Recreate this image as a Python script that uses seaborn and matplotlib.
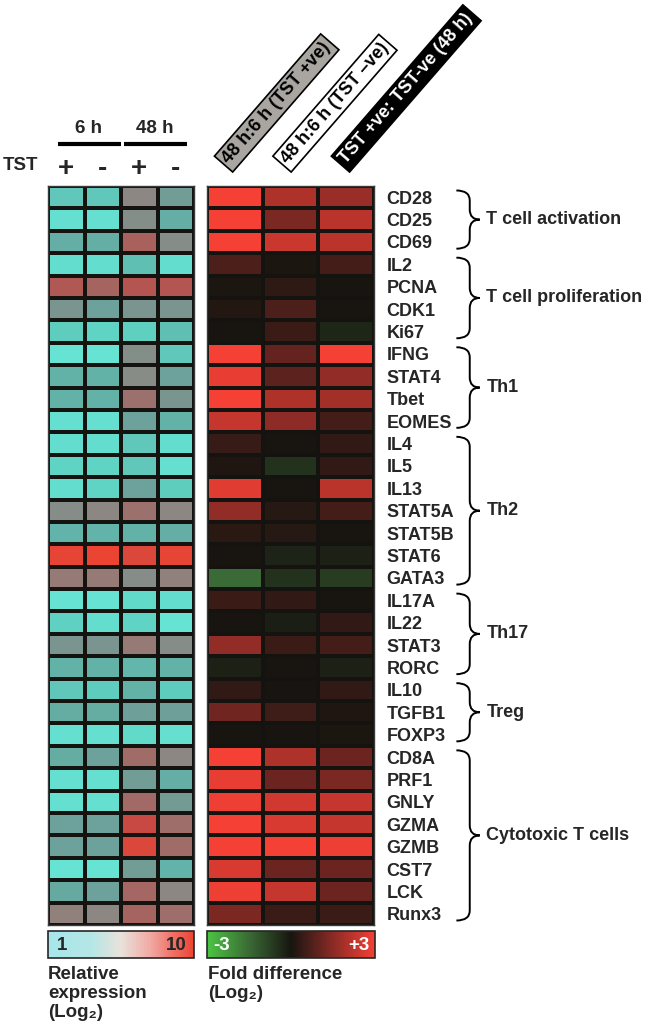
import matplotlib
matplotlib.use("Agg")
import matplotlib.pyplot as plt
from matplotlib.colors import LinearSegmentedColormap, Normalize
from matplotlib.cm import ScalarMappable
from matplotlib.path import Path
from matplotlib.patches import PathPatch
import numpy as np
import pandas as pd
import seaborn as sns

genes = ["CD28", "CD25", "CD69", "IL2", "PCNA", "CDK1", "Ki67", "IFNG", "STAT4", "Tbet",
         "EOMES", "IL4", "IL5", "IL13", "STAT5A", "STAT5B", "STAT6", "GATA3", "IL17A", "IL22",
         "STAT3", "RORC", "IL10", "TGFB1", "FOXP3", "CD8A", "PRF1", "GNLY", "GZMA", "GZMB",
         "CST7", "LCK", "Runx3"]

# relative expression (log2), columns: 6 h +, 6 h -, 48 h +, 48 h -
expr_6h_pos = [2.6, 1.5, 3.7, 1.6, 7.6, 5.0, 2.4, 1.3, 3.5, 3.5, 1.5, 1.6, 2.1, 1.6, 5.5, 3.4, 9.7,
               6.3, 1.3, 2.2, 5.0, 3.5, 2.6, 3.8, 1.5, 3.8, 1.5, 1.5, 4.3, 4.3, 1.3, 3.9, 6.0]
expr_6h_neg = [2.6, 1.5, 3.7, 1.6, 7.1, 4.3, 2.1, 1.3, 3.5, 3.5, 1.5, 1.6, 2.1, 2.1, 5.8, 3.4, 9.9,
               6.3, 1.3, 1.6, 5.0, 3.5, 2.4, 3.8, 1.5, 4.3, 1.5, 1.5, 4.3, 4.3, 1.3, 4.3, 5.8]
expr_48h_pos = [5.8, 5.4, 7.2, 2.9, 7.8, 5.0, 2.3, 5.4, 5.6, 6.6, 4.3, 2.6, 2.6, 4.3, 6.6, 3.5, 9.3,
                5.5, 1.8, 2.1, 6.3, 3.3, 3.5, 4.4, 1.8, 6.8, 4.6, 6.9, 8.6, 9.3, 4.6, 7.0, 7.1]
expr_48h_neg = [4.6, 3.7, 5.5, 1.6, 7.8, 5.0, 2.9, 2.6, 4.3, 5.0, 3.5, 1.6, 1.5, 2.4, 5.8, 3.7, 9.7,
                6.0, 1.6, 1.3, 5.5, 3.5, 2.4, 4.4, 1.5, 5.8, 3.7, 4.7, 6.7, 6.8, 3.4, 5.8, 6.7]

# fold difference (log2)
fd_pos_48v6 = [3.0, 3.0, 3.0, 0.7, 0.05, 0.15, 0.0, 3.0, 2.8, 3.0, 2.3, 0.4, 0.1, 2.7, 1.6, 0.25, 0.0,
               -1.5, 0.45, 0.0, 1.6, -0.2, 0.35, 1.15, 0.0, 3.0, 2.8, 2.9, 3.0, 3.0, 2.6, 2.9, 1.3]
fd_neg_48v6 = [2.0, 1.3, 2.4, 0.05, 0.3, 0.7, 0.45, 1.0, 0.9, 2.0, 1.55, 0.0, -0.5, 0.0, 0.2, 0.2, -0.25,
               -0.5, 0.33, -0.15, 0.45, 0.0, 0.0, 0.5, 0.0, 2.0, 1.1, 2.5, 2.6, 3.0, 1.1, 2.3, 0.45]
fd_pos_v_neg = [1.7, 2.2, 2.2, 0.6, 0.0, 0.0, -0.3, 3.0, 1.6, 1.85, 0.6, 0.35, 0.35, 2.2, 0.6, 0.0, -0.2,
                -0.7, 0.0, 0.33, 0.6, -0.2, 0.33, 0.1, 0.05, 1.1, 1.3, 2.3, 2.3, 2.9, 1.1, 1.1, 0.45]

tst_labels = ["+", "-", "+", "-"]
time_labels = ["6 h", "48 h"]
fold_labels = ["48 h:6 h (TST +ve)", "48 h:6 h (TST \u2013ve)", "TST +ve: TST-ve (48 h)"]

group_names = ["T cell activation", "T cell proliferation", "Th1", "Th2", "Th17", "Treg",
               "Cytotoxic T cells"]
group_sizes = [3, 4, 4, 7, 4, 3, 8]

sns.set_style("white")
plt.rcParams["font.family"] = ["Liberation Sans", "DejaVu Sans"]
plt.rcParams["font.weight"] = "bold"

df_expr = pd.DataFrame({"6h+": expr_6h_pos, "6h-": expr_6h_neg,
                        "48h+": expr_48h_pos, "48h-": expr_48h_neg}, index=genes)
df_fold = pd.DataFrame({"a": fd_pos_48v6, "b": fd_neg_48v6, "c": fd_pos_v_neg}, index=genes)

cmap_expr = LinearSegmentedColormap.from_list("expr", [
    (0.0, "#6ae8d8"), (0.111, "#5fd6c6"), (0.222, "#60bdb1"), (0.333, "#66a79f"),
    (0.444, "#7a9490"), (0.522, "#8a8a85"), (0.611, "#9a7470"), (0.722, "#ae5a56"),
    (0.833, "#c44a45"), (1.0, "#ee4432")])
cmap_expr_bar = LinearSegmentedColormap.from_list("expr_bar", [
    (0.0, "#a6e6ea"), (0.3, "#b6e6e6"), (0.5, "#e8e2da"), (0.7, "#f0aaa4"),
    (0.85, "#f07268"), (1.0, "#ec4432")])
cmap_fold = LinearSegmentedColormap.from_list("fold", [
    (0.0, "#4cc444"), (0.25, "#3a6a35"), (0.5, "#171510"), (0.75, "#8a2a25"), (1.0, "#f44035")])

W, H = 650, 1034
fig = plt.figure(figsize=(6.5, 10.34), dpi=100)

top_px, bot_px = 186, 925
axL = fig.add_axes([48 / W, 1 - bot_px / H, 146 / W, (bot_px - top_px) / H])
axR = fig.add_axes([207 / W, 1 - bot_px / H, 167 / W, (bot_px - top_px) / H])

sns.heatmap(df_expr, ax=axL, cmap=cmap_expr, vmin=1, vmax=10, cbar=False,
            linewidths=2.6, linecolor="#15130f", xticklabels=tst_labels, yticklabels=False)
sns.heatmap(df_fold, ax=axR, cmap=cmap_fold, vmin=-3, vmax=3, cbar=False,
            linewidths=2.6, linecolor="#15130f", xticklabels=False, yticklabels=genes)

for ax in (axL, axR):
    for sp in ax.spines.values():
        sp.set_visible(True)
        sp.set_color("#3a3a3a")
        sp.set_linewidth(1.0)

# left header
axL.xaxis.tick_top()
axL.tick_params(axis="x", length=0, pad=3)
axL.set_xticklabels(tst_labels, fontsize=20, fontweight="bold", rotation=0)
axL.set_xlabel("")
axL.set_ylabel("")
for i, lab in enumerate(time_labels):
    axL.text(1.12 + 1.8 * i, -2.55, lab, ha="center", va="center", fontsize=13.5,
             fontweight="bold", clip_on=False)
    x0 = 0.27 + 1.8 * i
    axL.plot([x0, x0 + 1.74], [-1.875, -1.875], color="k", lw=3, clip_on=False,
             solid_capstyle="butt")
fig.text(3 / W, 1 - 165 / H, "TST", ha="left", va="center", fontsize=13.5, fontweight="bold")

# gene labels on the right
axR.yaxis.tick_right()
axR.tick_params(axis="y", length=0, pad=9)
axR.set_yticklabels(genes, rotation=0, fontsize=13, fontweight="bold", ha="left")
axR.set_xlabel("")
axR.set_ylabel("")

# rotated comparison labels
box_styles = [("#a9a5a1", "k"), ("white", "k"), ("black", "white")]
for i, lab in enumerate(fold_labels):
    fc, tc = box_styles[i]
    axR.text(0.34 + 1.05 * i, -1.1, lab, rotation=49, rotation_mode="anchor",
             ha="left", va="center", fontsize=13, fontweight="bold", color=tc,
             clip_on=False,
             bbox=dict(boxstyle="square,pad=0.2", fc=fc, ec="k", lw=1.2))


def brace(ax, y0, y1, label, x0=4.48, xv=4.72, xt=4.9, d=0.45):
    ym = (y0 + y1) / 2
    verts = [(x0, y0), (xv, y0), (xv, y0 + d), (xv, ym - d), (xv, ym), (xt, ym),
             (xv, ym), (xv, ym + d), (xv, y1 - d), (xv, y1), (x0, y1)]
    codes = [Path.MOVETO, Path.CURVE3, Path.CURVE3, Path.LINETO, Path.CURVE3, Path.CURVE3,
             Path.CURVE3, Path.CURVE3, Path.LINETO, Path.CURVE3, Path.CURVE3]
    ax.add_patch(PathPatch(Path(verts, codes), fill=False, lw=1.4, ec="k", clip_on=False))
    ax.text(xt + 0.12, ym, label, ha="left", va="center", fontsize=13,
            fontweight="bold", clip_on=False)


start = 0
for name, n in zip(group_names, group_sizes):
    brace(axR, start + 0.2, start + n - 0.2, name)
    start += n

# colour scales
caxL = fig.add_axes([48 / W, 1 - 958 / H, 146 / W, 27 / H])
cb = fig.colorbar(ScalarMappable(norm=Normalize(1, 10), cmap=cmap_expr_bar), cax=caxL,
                  orientation="horizontal", ticks=[])
cb.outline.set_linewidth(1.2)
caxL.text(0.06, 0.48, "1", transform=caxL.transAxes, ha="left", va="center",
          fontsize=13.5, fontweight="bold")
caxL.text(0.95, 0.48, "10", transform=caxL.transAxes, ha="right", va="center",
          fontsize=13.5, fontweight="bold")

caxR = fig.add_axes([207 / W, 1 - 958 / H, 168 / W, 27 / H])
cb = fig.colorbar(ScalarMappable(norm=Normalize(-3, 3), cmap=cmap_fold), cax=caxR,
                  orientation="horizontal", ticks=[])
cb.outline.set_linewidth(1.2)
caxR.text(0.04, 0.48, "-3", transform=caxR.transAxes, ha="left", va="center",
          fontsize=13.5, fontweight="bold", color="white")
caxR.text(0.965, 0.48, "+3", transform=caxR.transAxes, ha="right", va="center",
          fontsize=13.5, fontweight="bold", color="white")

fig.text(48 / W, 1 - 966 / H, "Relative\nexpression\n(Log\u2082)", ha="left", va="top",
         fontsize=13.5, fontweight="bold", linespacing=1.15)
fig.text(208 / W, 1 - 966 / H, "Fold difference\n(Log\u2082)", ha="left", va="top",
         fontsize=13.5, fontweight="bold", linespacing=1.15)

fig.savefig("out.png", dpi=100)
